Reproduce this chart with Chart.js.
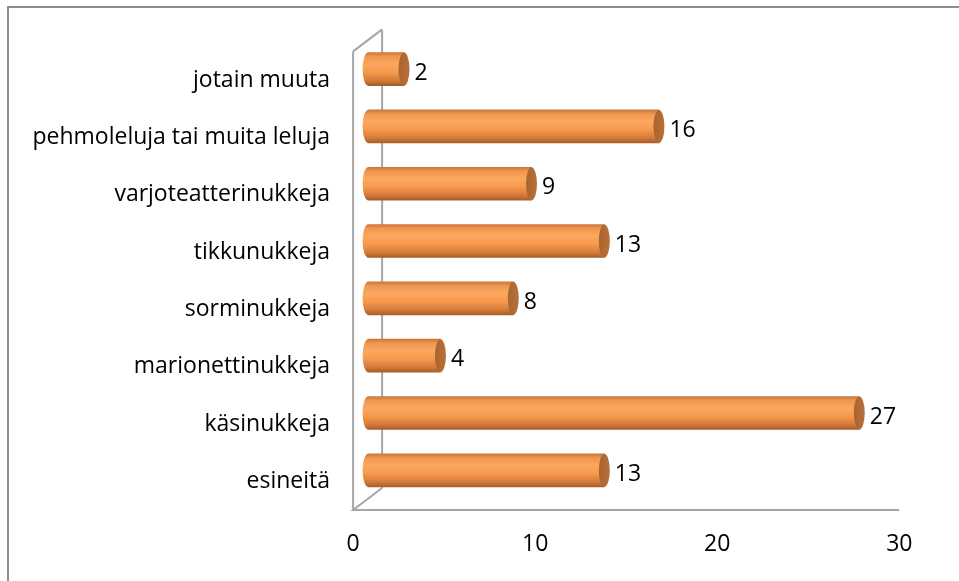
<!DOCTYPE html>
<html>
<head>
<meta charset="utf-8">
<script src="https://cdn.jsdelivr.net/npm/chart.js@4.4.0/dist/chart.umd.min.js"></script>
<style>
  html, body { margin: 0; padding: 0; background: #fff; }
  #wrap { width: 959px; height: 581px; position: relative; }
</style>
</head>
<body>
<div id="wrap"><canvas id="chart"></canvas></div>
<script>
const categories = [
    'jotain muuta',
    'pehmoleluja tai muita leluja',
    'varjoteatterinukkeja',
    'tikkunukkeja',
    'sorminukkeja',
    'marionettinukkeja',
    'käsinukkeja',
    'esineitä'
];
const counts = [2, 16, 9, 13, 8, 4, 27, 13];
const xTicks = [0, 10, 20, 30];

const FONT = '"Open Sans", sans-serif';
const FONT_SIZE = 23;
const DEPTH_X = 14.5;   // half depth of the 3D box
const DEPTH_Y = 11;
const CAP_RX = 5.5;

function barGradient(ctx, top, bottom) {
    const g = ctx.createLinearGradient(0, top, 0, bottom);
    g.addColorStop(0, '#c9773a');
    g.addColorStop(0.12, '#f0964e');
    g.addColorStop(0.35, '#fba860');
    g.addColorStop(0.6, '#f7994c');
    g.addColorStop(0.85, '#d27b39');
    g.addColorStop(1, '#a65d29');
    return g;
}

// background, outer frame and the 3D walls
const framePlugin = {
    id: 'frame',
    beforeDraw(chart) {
        const { ctx, width, height } = chart;
        ctx.save();
        ctx.fillStyle = '#fff';
        ctx.fillRect(0, 0, width, height);
        ctx.strokeStyle = '#8c8c8c';
        ctx.lineWidth = 2;
        ctx.beginPath();
        ctx.moveTo(8, height);
        ctx.lineTo(8, 7);
        ctx.lineTo(width, 7);
        ctx.stroke();
        ctx.restore();
    },
    beforeDatasetsDraw(chart) {
        const { ctx, chartArea, scales } = chart;
        const x0 = scales.x.getPixelForValue(0);
        const xMax = scales.x.getPixelForValue(30);
        const fl = x0 - DEPTH_X, bl = x0 + DEPTH_X;
        const ft = chartArea.top + DEPTH_Y, bt = chartArea.top - DEPTH_Y;
        const fb = chartArea.bottom + DEPTH_Y, bb = chartArea.bottom - DEPTH_Y;
        ctx.save();
        ctx.strokeStyle = '#a6a6a6';
        ctx.lineWidth = 2;
        ctx.beginPath();
        // back wall edge
        ctx.moveTo(bl, bt);
        ctx.lineTo(bl, bb);
        // front wall edge
        ctx.moveTo(fl, ft);
        ctx.lineTo(fl, fb);
        // top diagonal
        ctx.moveTo(fl, ft);
        ctx.lineTo(bl, bt);
        // floor
        ctx.moveTo(bl, bb);
        ctx.lineTo(fl, fb);
        ctx.lineTo(xMax - DEPTH_X, fb);
        ctx.stroke();
        ctx.restore();

        // cylinder shading on the bars (options are per element, see scriptable colour)
        chart.getDatasetMeta(0).data.forEach(el => {
            const h = el.height;
            el.options.backgroundColor = barGradient(ctx, el.y - h / 2, el.y + h / 2);
        });
    },
    afterDatasetsDraw(chart) {
        const { ctx } = chart;
        const meta = chart.getDatasetMeta(0);
        ctx.save();
        meta.data.forEach((el, i) => {
            const h = el.height / 2;
            // rounded start of the cylinder
            ctx.fillStyle = barGradient(ctx, el.y - h, el.y + h);
            ctx.beginPath();
            ctx.ellipse(el.base + 0.5, el.y, CAP_RX, h, 0, Math.PI / 2, Math.PI * 1.5);
            ctx.fill();
            // end face
            const cg = ctx.createLinearGradient(el.x - CAP_RX, 0, el.x + CAP_RX, 0);
            cg.addColorStop(0, '#a9652f');
            cg.addColorStop(1, '#b8703a');
            ctx.fillStyle = cg;
            ctx.beginPath();
            ctx.ellipse(el.x, el.y, CAP_RX, h, 0, 0, Math.PI * 2);
            ctx.fill();
            // value label
            ctx.fillStyle = '#000';
            ctx.font = FONT_SIZE + 'px ' + FONT;
            ctx.textAlign = 'left';
            ctx.textBaseline = 'middle';
            ctx.fillText(String(counts[i]), el.x + CAP_RX + 5, el.y + 4);
        });
        ctx.restore();
    }
};

new Chart(document.getElementById('chart'), {
    type: 'bar',
    data: {
        labels: categories,
        datasets: [{
            data: counts,
            backgroundColor: () => '#f79646',
            borderWidth: 0,
            barThickness: 33
        }]
    },
    options: {
        indexAxis: 'y',
        responsive: true,
        maintainAspectRatio: false,
        animation: false,
        devicePixelRatio: 1,
        layout: { padding: { top: 40.4, right: 45, bottom: 25, left: 0 } },
        plugins: {
            legend: { display: false },
            tooltip: { enabled: false }
        },
        scales: {
            x: {
                min: 0,
                max: 30,
                afterBuildTicks: (scale) => { scale.ticks = xTicks.map(v => ({ value: v })); },
                afterFit: (scale) => { scale.height = 57; },
                grid: { display: false, drawTicks: false },
                border: { display: false },
                ticks: {
                    color: '#000',
                    font: { family: FONT, size: FONT_SIZE },
                    padding: 32,
                    labelOffset: -DEPTH_X,
                    maxRotation: 0
                }
            },
            y: {
                afterFit: (scale) => {
                    scale.width = 367.6;
                    scale.paddingTop = 0;
                    scale.paddingBottom = 0;
                },
                grid: { display: false, drawTicks: false },
                border: { display: false },
                ticks: {
                    color: '#000',
                    font: { family: FONT, size: FONT_SIZE },
                    padding: 37.6,
                    labelOffset: DEPTH_Y
                }
            }
        }
    },
    plugins: [framePlugin]
});
</script>
</body>
</html>
